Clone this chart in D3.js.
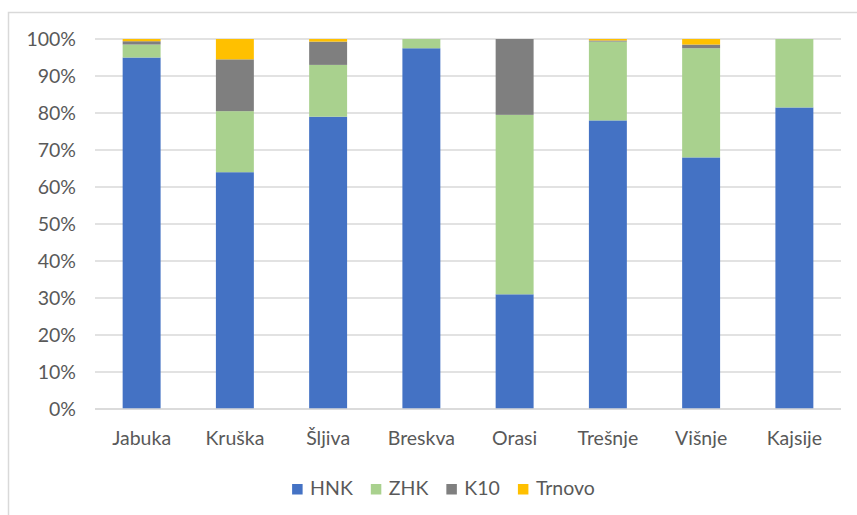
<!DOCTYPE html>
<html>
<head>
<meta charset="utf-8">
<script src="https://cdn.jsdelivr.net/npm/d3@7"></script>
<style>
  html, body { margin: 0; padding: 0; background: #fff; }
  svg { display: block; }
  text { font-family: Lato, "Open Sans", sans-serif; fill: #595959; }
</style>
</head>
<body>
<svg id="chart" width="857" height="515"></svg>
<script>
const categories = ["Jabuka", "Kruška", "Šljiva", "Breskva", "Orasi", "Trešnje", "Višnje", "Kajsije"];
const seriesNames = ["HNK", "ZHK", "K10", "Trnovo"];
const seriesColors = ["#4472C4", "#A9D18E", "#7F7F7F", "#FFC000"];
const HNK    = [95.0, 64.0, 79.0, 97.5, 31.0, 78.0, 68.0, 81.5];
const ZHK    = [ 3.5, 16.5, 14.0,  2.5, 48.5, 21.3, 29.5, 18.5];
const K10    = [ 0.9, 14.0,  6.3,  0.0, 20.5,  0.3,  1.0,  0.0];
const Trnovo = [ 0.6,  5.5,  0.7,  0.0,  0.0,  0.4,  1.5,  0.0];
const yTicks = [0, 0.1, 0.2, 0.3, 0.4, 0.5, 0.6, 0.7, 0.8, 0.9, 1.0];

const seriesValues = [HNK, ZHK, K10, Trnovo];
const table = categories.map((c, i) => {
  const row = { cat: c };
  seriesNames.forEach((s, j) => row[s] = seriesValues[j][i]);
  return row;
});

const FS = 19.5;
const svg = d3.select("#chart");
svg.append("rect").attr("width", 857).attr("height", 515).attr("fill", "#fff");

// outer frame
svg.append("rect")
  .attr("x", 8.5).attr("y", 12.5).attr("width", 900).attr("height", 600)
  .attr("fill", "none").attr("stroke", "#d9d9d9").attr("stroke-width", 1.5);

const plotL = 95, plotR = 841, plotT = 39, plotB = 409;
const x = d3.scaleBand().domain(categories).range([plotL, plotR]).paddingInner(0.593).paddingOuter(0.2965);
const y = d3.scaleLinear().domain([0, 1]).range([plotB, plotT]);

// gridlines
svg.append("g").selectAll("line").data(yTicks).join("line")
  .attr("x1", plotL).attr("x2", plotR)
  .attr("y1", d => y(d)).attr("y2", d => y(d))
  .attr("stroke", "#d9d9d9").attr("stroke-width", 1.5);

// y axis labels
const yAxis = d3.axisLeft(y).tickValues(yTicks).tickFormat(d3.format(".0%")).tickSize(0).tickPadding(0);
const yg = svg.append("g").attr("transform", `translate(76,0)`).call(yAxis);
yg.select(".domain").remove();
yg.selectAll("text").attr("font-size", FS).attr("fill", "#595959").attr("font-family", "Lato, sans-serif");

// stacked bars
const stack = d3.stack().keys(seriesNames).offset(d3.stackOffsetExpand);
const layers = stack(table);
svg.append("g").selectAll("g").data(layers).join("g")
  .attr("fill", (d, i) => seriesColors[i])
  .selectAll("rect").data(d => d).join("rect")
  .attr("x", d => x(d.data.cat))
  .attr("width", x.bandwidth())
  .attr("y", d => y(d[1]))
  .attr("height", d => Math.max(0, y(d[0]) - y(d[1])));

// bottom axis line
svg.append("line").attr("x1", plotL).attr("x2", plotR).attr("y1", plotB).attr("y2", plotB)
  .attr("stroke", "#d9d9d9").attr("stroke-width", 1.5);

// x axis labels
const xAxis = d3.axisBottom(x).tickSize(0).tickPadding(0);
const xg = svg.append("g").attr("transform", `translate(0,${plotB + 22})`).call(xAxis);
xg.select(".domain").remove();
xg.selectAll("text").attr("font-size", FS).attr("fill", "#595959").attr("font-family", "Lato, sans-serif");

// legend
const lg = svg.append("g");
const items = lg.selectAll("g").data(seriesNames).join("g");
items.append("rect").attr("width", 10.5).attr("height", 10.5).attr("y", -11)
  .attr("fill", (d, i) => seriesColors[i]);
items.append("text").attr("x", 18).attr("y", 0).attr("font-size", FS).text(d => d);
let pos = 0;
items.each(function () {
  const w = 18 + d3.select(this).select("text").node().getComputedTextLength();
  d3.select(this).attr("transform", `translate(${pos},0)`);
  pos += w + 18;
});
const total = pos - 18;
lg.attr("transform", `translate(${443.5 - total / 2},495)`);
</script>
</body>
</html>
